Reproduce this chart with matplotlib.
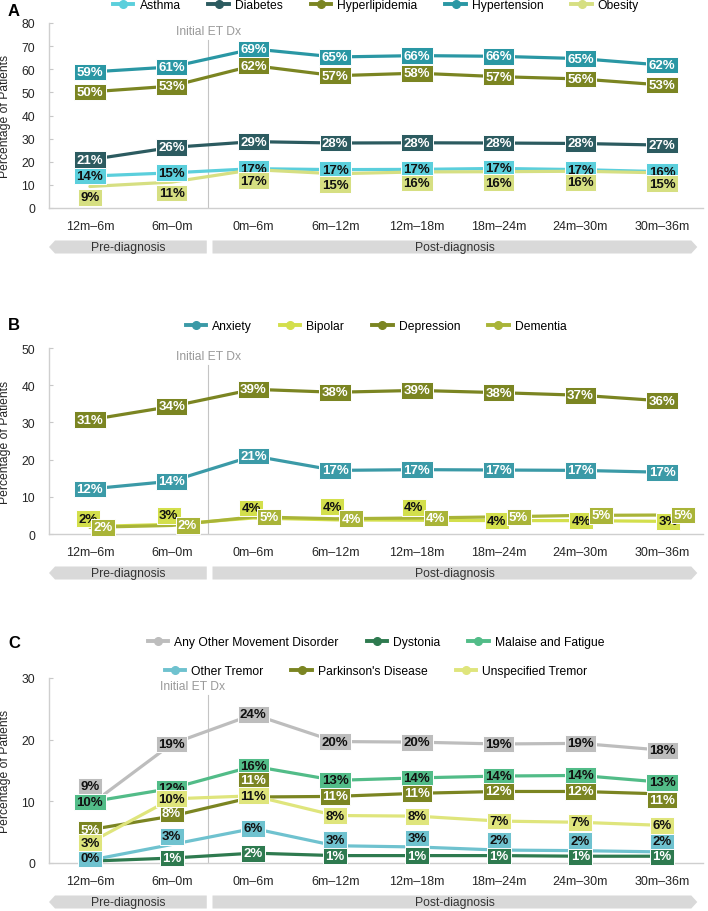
import numpy as np
import matplotlib.pyplot as plt
from matplotlib.patches import Polygon
from matplotlib.lines import Line2D
from matplotlib import transforms, font_manager

plt.rcParams['font.family'] = ['Liberation Sans', 'DejaVu Sans']

fnames = {f.name for f in font_manager.fontManager.ttflist}
lab_font = 'Liberation Sans Narrow' if 'Liberation Sans Narrow' in fnames else 'Liberation Sans'

periods = ['12m–6m', '6m–0m', '0m–6m', '6m–12m', '12m–18m', '18m–24m', '24m–30m', '30m–36m']

# panel A - comorbidities
a_names = ['Asthma', 'Diabetes', 'Hyperlipidemia', 'Hypertension', 'Obesity']
asthma = [13.8, 15.2, 17.0, 16.6, 16.7, 17.1, 16.6, 15.7]
diabetes = [20.9, 26.2, 28.7, 28.1, 28.2, 28.1, 27.9, 27.2]
hyperlipidemia = [50.2, 52.7, 61.6, 57.2, 58.3, 56.8, 55.8, 53.2]
hypertension = [58.8, 61.0, 68.8, 65.3, 65.9, 65.6, 64.6, 61.8]
obesity = [9.3, 11.2, 16.6, 14.8, 15.6, 15.7, 15.9, 15.2]

# panel B - psychiatric
b_names = ['Anxiety', 'Bipolar', 'Depression', 'Dementia']
anxiety = [12.1, 14.2, 21.0, 17.1, 17.3, 17.2, 17.1, 16.6]
bipolar = [2.0, 2.6, 4.3, 3.8, 3.7, 3.6, 3.6, 3.4]
depression = [30.7, 34.3, 38.9, 38.1, 38.6, 38.0, 37.3, 35.8]
dementia = [1.8, 2.3, 4.6, 4.1, 4.3, 4.6, 5.0, 5.1]

# panel C - movement disorders
c_names = ['Any Other Movement Disorder', 'Dystonia', 'Malaise and Fatigue',
           'Other Tremor', "Parkinson's Disease", 'Unspecified Tremor']
aomd = [9.4, 19.3, 24.1, 19.7, 19.6, 19.3, 19.4, 18.3]
dystonia = [0.3, 0.8, 1.6, 1.2, 1.2, 1.2, 1.1, 1.1]
malaise = [9.9, 12.1, 15.7, 13.4, 13.8, 14.1, 14.2, 13.1]
other_tremor = [0.45, 3.0, 5.6, 2.8, 2.6, 2.1, 2.0, 1.8]
parkinsons = [5.4, 7.6, 10.7, 10.8, 11.3, 11.6, 11.6, 11.2]
unspec_tremor = [3.3, 10.4, 10.9, 7.7, 7.6, 6.8, 6.6, 6.1]

# styles
a_colors = ['#5bcfdc', '#2c5b60', '#7b8522', '#2a97a4', '#d6df82']
a_txt = ['#111111', 'white', 'white', 'white', '#111111']
b_colors = ['#3b9aa7', '#d3df4c', '#7b8522', '#a9b438']
b_txt = ['white', '#111111', 'white', 'white']
c_colors = ['#bdbdbd', '#2e7a4f', '#52bc88', '#6fc2cf', '#7b8522', '#dfe57c']
c_txt = ['#111111', 'white', '#111111', '#111111', 'white', '#111111']

# label offsets in pixels (None = label hidden behind another one)
zero8 = [(0, 0)] * 8
a_off = [zero8, zero8, zero8, zero8, [(0, -11)] * 8]
b_off = [zero8,
         [(-2, 8), (-3, 9), (-2, 10), (-3, 13), (-3, 13), (-2, 0), (1, 0), (6, 0)],
         zero8,
         [(13, 0), (16, 0), (16, 0), (16, 0), (19, 0), (20, 0), (21, 0), (21, 0)]]
c_off = [[(0, 19)] + [(0, 0)] * 7,
         [None] + [(0, 0)] * 7,
         zero8,
         [(0, 2), (0, 8), (0, 0), (0, 6), (0, 9), (0, 10), (0, 10), (0, 11)],
         [(0, 0), (0, 3), (0, 17), (0, 0), (0, 0), (0, 0), (0, 0), (0, -6)],
         zero8]

W, H = 708, 912
fig = plt.figure(figsize=(W / 100, H / 100), dpi=100)

x = np.arange(len(periods))
divider = 1.45


def px_axes(top, bottom):
    return fig.add_axes([49 / W, 1 - bottom / H, 654 / W, (bottom - top) / H])


def panel(ax, series, colors, txtc, offs, ymax, ystep, dx_text=0):
    for s, c in zip(series, colors):
        ax.plot(x, s, color=c, lw=2.3, solid_capstyle='round', zorder=2)
    for s, c, tc, off in zip(series, colors, txtc, offs):
        for i, v in enumerate(s):
            if off[i] is None:
                continue
            ax.annotate(f'{v:.0f}%', (x[i], v), xytext=(off[i][0] * 0.72, off[i][1] * 0.72),
                        textcoords='offset points', ha='center', va='center',
                        fontsize=9.5, fontweight='bold', family=lab_font, color=tc,
                        bbox=dict(boxstyle='square,pad=0.18', fc=c, ec='white', lw=0.7),
                        zorder=4)
    ax.set_xlim(-0.5, 7.5)
    ax.set_ylim(0, ymax)
    ax.set_yticks(np.arange(0, ymax + 1, ystep))
    ax.set_xticks(x)
    ax.set_xticklabels(periods)
    ax.tick_params(axis='x', length=0, pad=9, labelsize=9, colors='#262626')
    ax.tick_params(axis='y', length=3, direction='in', color='#c8c8c8', pad=10,
                   labelsize=8.7, labelcolor='#262626')
    for sp in ['top', 'right']:
        ax.spines[sp].set_visible(False)
    for sp in ['left', 'bottom']:
        ax.spines[sp].set_color('#cfcfcf')
        ax.spines[sp].set_linewidth(1.0)
    ax.set_ylabel('Percentage of Patients', fontsize=8.7, color='#262626')
    ax.yaxis.set_label_coords(-0.058, 0.5)

    # diagnosis line
    hpx = ax.get_position().height * H
    tr = transforms.blended_transform_factory(ax.transData, ax.transAxes)
    ax.plot([divider, divider], [0, 1 - 17 / hpx], color='#c4c4c4', lw=0.8,
            transform=tr, zorder=1)
    ax.text(divider + dx_text, 1 - 8 / hpx, 'Initial ET Dx', fontsize=8.7, color='#9a9a9a',
            ha='center', va='center', transform=tr)

    # pre/post arrows below the axis
    yc = -39 / hpx
    hh = 6.5 / hpx
    tip = 6 / 82
    pre = Polygon([(-0.5, yc), (-0.5 + tip, yc + hh), (1.43, yc + hh), (1.43, yc - hh),
                   (-0.5 + tip, yc - hh)], closed=True, fc='#d9d9d9', ec='none',
                  transform=tr, clip_on=False)
    post = Polygon([(1.5, yc + hh), (7.43 - tip, yc + hh), (7.43, yc), (7.43 - tip, yc - hh),
                    (1.5, yc - hh)], closed=True, fc='#d9d9d9', ec='none',
                   transform=tr, clip_on=False)
    ax.add_patch(pre)
    ax.add_patch(post)
    ax.text((-0.5 + 1.43) / 2, yc, 'Pre-diagnosis', transform=tr, ha='center', va='center',
            fontsize=8.7, color='#333333')
    ax.text((1.5 + 7.43) / 2, yc, 'Post-diagnosis', transform=tr, ha='center', va='center',
            fontsize=8.7, color='#333333')


def legend_handles(names, colors):
    return [Line2D([0], [0], color=c, lw=2.8, marker='o', ms=5.5, label=n)
            for n, c in zip(names, colors)]


leg_kw = dict(frameon=False, fontsize=8.7, handlelength=1.7, handletextpad=0.5,
              columnspacing=2.3, loc='center', borderaxespad=0, borderpad=0)

# A
axA = px_axes(24, 209)
panel(axA, [asthma, diabetes, hyperlipidemia, hypertension, obesity],
      a_colors, a_txt, a_off, 80, 10)
axA.legend(handles=legend_handles(a_names, a_colors), ncol=5,
           bbox_to_anchor=(0.5, (209 - 6) / 185), **leg_kw)

# B
axB = px_axes(349, 535)
panel(axB, [anxiety, bipolar, depression, dementia], b_colors, b_txt, b_off, 50, 10)
axB.legend(handles=legend_handles(b_names, b_colors), ncol=4,
           bbox_to_anchor=(0.5, (535 - 327) / 186), **leg_kw)

# C
axC = px_axes(679, 864)
panel(axC, [aomd, dystonia, malaise, other_tremor, parkinsons, unspec_tremor],
      c_colors, c_txt, c_off, 30, 10, dx_text=-0.2)
hc = legend_handles(c_names, c_colors)
l1 = axC.legend(handles=hc[:3], ncol=3, bbox_to_anchor=(0.5, (864 - 643) / 185), **leg_kw)
axC.add_artist(l1)
axC.legend(handles=hc[3:], ncol=3, bbox_to_anchor=(0.5, (864 - 672) / 185), **leg_kw)

for letter, yy in [('A', 12), ('B', 325), ('C', 643)]:
    fig.text(8 / W, 1 - yy / H, letter, fontsize=12, fontweight='bold', va='center', ha='left')

fig.savefig('out.png', dpi=100)
